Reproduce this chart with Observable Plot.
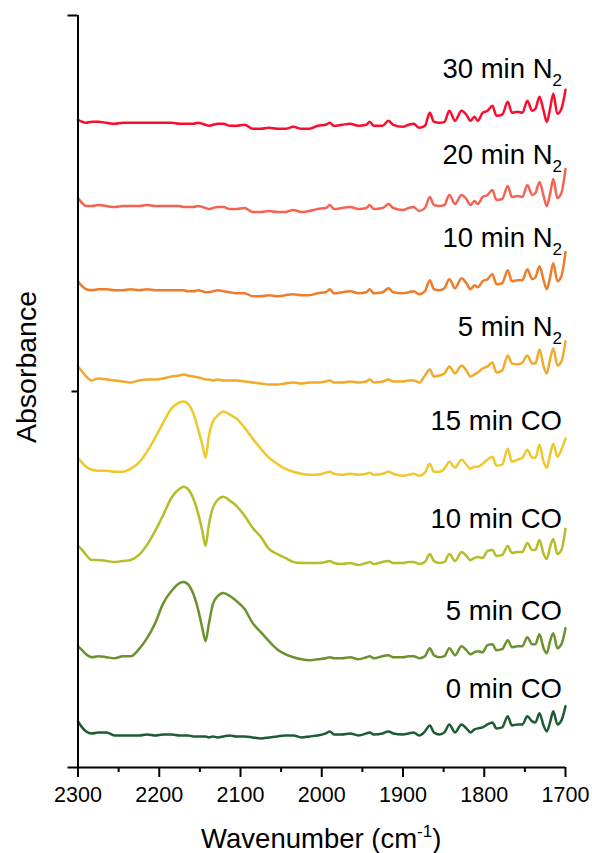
<!DOCTYPE html>
<html>
<head>
<meta charset="utf-8">
<script src="https://cdn.jsdelivr.net/npm/d3@7"></script>
<script src="https://cdn.jsdelivr.net/npm/@observablehq/plot@0.6"></script>
<style>
  html, body { margin: 0; padding: 0; background: #fff; }
  #chart { width: 592px; height: 853px; }
</style>
</head>
<body>
<div id="chart"></div>
<script>
// Wavenumber grid (cm^-1)
const wn = [2300,2295,2290,2283,2275,2265,2255,2245,2235,2225,2215,2205,2195,2185,2175,2170,2165,2158,2152,2147,2143,2139,2134,2128,2121,2113,2105,2095,2085,2075,2065,2055,2045,2035,2025,2015,2005,1995,1990,1985,1975,1965,1955,1945,1941,1936,1925,1918,1912,1900,1893,1887,1880,1873,1867,1862,1855,1849,1843,1836,1828,1822,1817,1812,1808,1802,1796,1790,1785,1778,1771,1766,1759,1753,1747,1741,1737,1732,1727,1723,1719,1715,1710,1705,1700];

// Stacked absorbance traces (mA, offsets included)
const co0 = [46,40,36,34,35,35,32,32,32,32,33,32,33,33,32,32,32,31,31,31,31,30,31,30,31,32,31,31,30,29,30,31,32,32,30,31,32,34,36,33,33,34,32,34,35,33,34,36,34,33,34,35,32,36,42,35,33,35,43,35,43,39,35,38,39,40,43,45,39,40,51,42,43,43,51,46,45,54,42,36,45,56,43,47,61];
const co5 = [121,117,113,110,111,110,109,111,111,118,129,144,164,176,184,185,183,173,157,139,126,143,163,171,174,171,166,158,144,135,126,118,113,110,108,107,108,109,110,109,109,110,108,110,111,109,111,112,110,110,111,111,109,111,119,112,110,111,119,112,121,117,113,115,116,115,122,123,117,118,127,120,121,121,130,123,123,133,119,114,126,134,119,123,139];
const co10 = [221,217,212,207,207,206,205,206,207,212,222,236,252,269,278,280,278,268,253,236,221,242,259,267,270,266,261,251,239,230,218,213,209,205,204,204,204,205,206,204,203,204,202,204,205,203,205,206,204,204,205,205,203,205,213,206,204,205,213,206,215,211,207,209,210,209,216,217,211,212,221,214,215,215,224,217,217,227,213,208,220,228,213,217,238];
const co15 = [309,304,300,297,296,296,295,295,298,304,315,329,344,358,364,365,363,353,337,322,309,330,345,351,355,352,348,339,328,318,309,303,298,295,293,292,292,294,295,293,292,293,292,293,294,292,293,295,293,291,292,293,291,294,303,295,295,298,305,299,307,302,298,300,300,303,307,310,301,302,318,305,307,309,317,309,309,322,305,299,312,323,310,317,328];
const n5 = [400,395,390,386,388,387,386,385,384,386,387,387,388,390,391,392,391,390,389,388,387,387,386,387,386,386,386,385,384,383,382,382,383,384,383,384,384,385,386,384,384,385,384,385,387,384,385,387,385,385,386,386,384,391,397,390,391,393,400,393,401,396,390,392,394,398,400,404,394,396,411,403,402,404,411,403,403,417,400,393,407,418,401,405,425];
const n10 = [485,480,477,476,477,477,476,476,477,476,477,476,476,476,476,476,475,475,476,475,474,474,475,476,475,474,473,473,470,470,471,470,471,472,471,471,473,474,477,473,474,475,473,474,477,473,474,478,474,473,474,475,472,475,486,477,476,478,487,478,488,483,477,481,479,485,487,492,482,483,496,485,486,486,497,487,489,500,486,477,489,503,485,490,514];
const n20 = [568,563,560,560,561,560,559,560,560,560,561,560,560,560,560,559,559,559,560,559,558,557,558,559,559,557,557,558,554,554,555,554,554,556,554,555,557,558,561,557,558,559,557,558,561,557,558,562,558,556,558,559,555,558,569,561,560,561,571,562,571,567,561,565,562,569,571,576,566,567,580,569,570,569,581,571,573,584,570,560,572,587,568,573,597];
const n30 = [646,644,643,644,644,643,642,643,643,643,643,643,643,643,642,642,642,642,643,642,641,640,641,642,642,640,640,641,637,637,638,637,637,639,637,637,640,641,643,640,641,642,640,641,644,640,640,645,641,639,641,642,638,640,653,644,643,644,655,645,655,651,645,649,645,653,655,660,650,651,664,653,654,653,665,655,657,669,655,644,657,672,652,657,676];

// Series names (base text + subscript part) and colours
const labelMain = ["0 min CO","5 min CO","10 min CO","15 min CO","5 min N","10 min N","20 min N","30 min N"];
const labelSub  = ["","","","","2","2","2","2"];
const seriesValues = [co0, co5, co10, co15, n5, n10, n20, n30];
const colors = ["#1d5c33","#6b922f","#b6bd2a","#efc82b","#f2aa2c","#f07c2a","#f46455","#fb0d2d"];

// Axis ticks
const majorTicks = [2300,2200,2100,2000,1900,1800,1700];
const minorTicks = [2250,2150,2050,1950,1850,1750];
const yMajor = [0, 0.75];
const yMinor = [0.375];

// label vertical nudges (px) relative to the trace end
const labelNudge = [-8, -8, 0, -8, -5, -5, -4, -11];

const names = labelMain.map((m, i) => m + labelSub[i]);
const rows = [];
seriesValues.forEach((vals, i) => {
  vals.forEach((v, j) => rows.push({series: names[i], wn: wn[j], a: v / 1000}));
});

const font = "'Liberation Sans', Arial, Helvetica, sans-serif";

const plot = Plot.plot({
  width: 592,
  height: 853,
  marginLeft: 77.5,
  marginRight: 27,
  marginTop: 15,
  marginBottom: 86,
  style: {fontFamily: font, background: "white", color: "black", overflow: "visible"},
  x: {domain: [2300, 1700]},
  y: {domain: [0, 0.75]},
  color: {domain: names, range: colors},
  marks: [
    Plot.line(rows, {x: "wn", y: "a", z: "series", stroke: "series", strokeWidth: 2.5, strokeLinejoin: "round", curve: "monotone-x"}),
    Plot.ruleX([2300], {stroke: "black", strokeWidth: 2}),
    Plot.ruleY([0], {stroke: "black", strokeWidth: 2}),
    Plot.axisX(majorTicks, {tickSize: 10, tickPadding: 9, fontSize: 21.5, strokeWidth: 2, label: null, tickFormat: d => String(d)}),
    Plot.axisX(minorTicks, {tickSize: 5, strokeWidth: 2, label: null, tickFormat: () => ""}),
    Plot.axisY(yMajor, {tickSize: 10, strokeWidth: 2, label: null, tickFormat: () => ""}),
    Plot.axisY(yMinor, {tickSize: 6, strokeWidth: 2, label: null, tickFormat: () => ""})
  ]
});

document.getElementById("chart").appendChild(plot);

const xs = plot.scale("x");
const ys = plot.scale("y");
const svg = d3.select(plot);
const g = svg.append("g").attr("font-family", font).attr("fill", "black");

// Series labels, placed above the right end of each trace
seriesValues.forEach((vals, i) => {
  const t = g.append("text")
    .attr("x", xs.apply(1700) - 3)
    .attr("y", ys.apply(vals[vals.length - 1] / 1000) + labelNudge[i])
    .attr("text-anchor", "end")
    .attr("font-size", 27.5)
    .text(labelMain[i]);
  if (labelSub[i]) {
    t.append("tspan").attr("font-size", 17).attr("dy", 8).text(labelSub[i]);
  }
});

// Axis titles
const xt = g.append("text")
  .attr("x", (xs.apply(2300) + xs.apply(1700)) / 2)
  .attr("y", 848)
  .attr("text-anchor", "middle")
  .attr("font-size", 27.5)
  .text("Wavenumber (cm");
xt.append("tspan").attr("font-size", 17).attr("dy", -11).text("-1");
xt.append("tspan").attr("dy", 11).text(")");

g.append("text")
  .attr("transform", "translate(35.5,367) rotate(-90)")
  .attr("text-anchor", "middle")
  .attr("font-size", 28.5)
  .text("Absorbance");
</script>
</body>
</html>
